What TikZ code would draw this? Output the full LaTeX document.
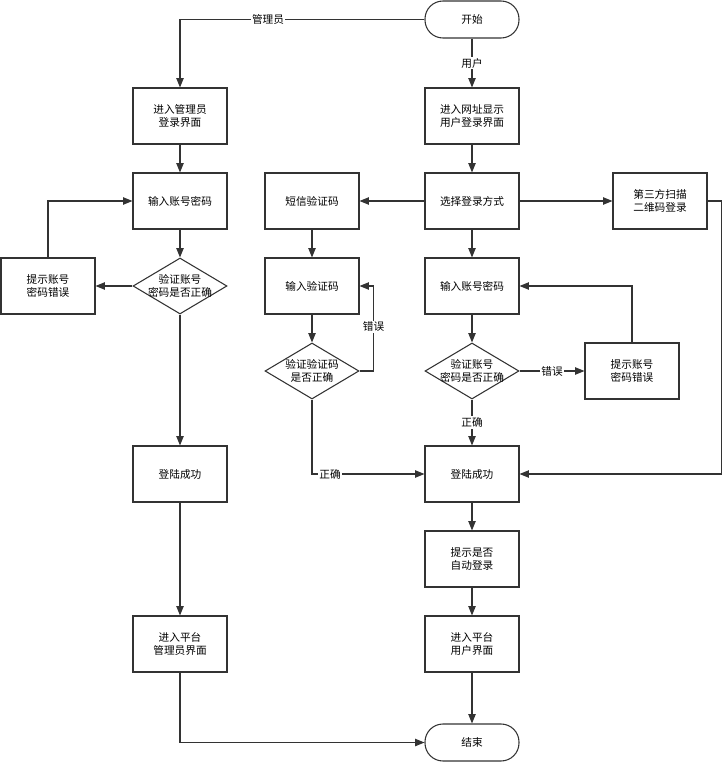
\documentclass[tikz,border=0pt]{standalone}
\usepackage{fontspec}
\setmainfont{Noto Sans CJK SC}
\usetikzlibrary{arrows.meta,shapes.geometric}

\tikzset{
  every node/.style={font=\fontsize{8pt}{10pt}\selectfont},
  proc/.style={draw=black!80, line width=0.8pt, rectangle, minimum width=70.5pt, minimum height=42pt, inner sep=0pt, align=center},
  term/.style={draw=black!80, line width=0.8pt, rectangle, rounded corners=13.5pt, minimum width=70.5pt, minimum height=27.75pt, inner sep=0pt},
  decision/.style={draw=black!80, line width=0.8pt, diamond, minimum width=70.5pt, minimum height=42pt, inner sep=0pt},
  flow/.style={draw=black!80, line width=0.8pt, -{Triangle[length=7pt,width=5.5pt]}},
  lbl/.style={fill=white, inner sep=1pt}
}

\begin{document}
\begin{tikzpicture}[x=0.75pt,y=0.75pt,yscale=-1,xscale=1]
\useasboundingbox (0,0) rectangle (723,763);

%Terminals
\node[term] (start) at (472,19.5) {开始};
\node[term] (stop) at (472,742.5) {结束};

%Admin column
\node[proc] (admLogin) at (180,116) {进入管理员\\登录界面};
\node[proc] (admInput) at (180,201) {输入账号密码};
\node[decision, label={[align=center]center:验证账号\\密码是否正确}] (admCheck) at (180,286) {};
\node[proc] (admErr) at (48,286) {提示账号\\密码错误};
\node[proc] (admOk) at (180,474) {登陆成功};
\node[proc] (admHome) at (180,644) {进入平台\\管理员界面};

%SMS column
\node[proc] (sms) at (312,201) {短信验证码};
\node[proc] (smsInput) at (312,286) {输入验证码};
\node[decision, label={[align=center]center:验证验证码\\是否正确}] (smsCheck) at (312,371) {};

%User column
\node[proc] (usrLogin) at (472,116) {进入网址显示\\用户登录界面};
\node[proc] (usrChoose) at (472,201) {选择登录方式};
\node[proc] (usrInput) at (472,286) {输入账号密码};
\node[decision, label={[align=center]center:验证账号\\密码是否正确}] (usrCheck) at (472,371) {};
\node[proc] (usrErr) at (632,371) {提示账号\\密码错误};
\node[proc] (usrOk) at (472,474) {登陆成功};
\node[proc] (usrAuto) at (472,559) {提示是否\\自动登录};
\node[proc] (usrHome) at (472,644) {进入平台\\用户界面};

%QR login
\node[proc] (qr) at (660,201) {第三方扫描\\二维码登录};

%Connectors: admin
\draw[flow] (start.west) -| (admLogin.north) node[lbl, pos=0.32] {管理员};
\draw[flow] (admLogin) -- (admInput);
\draw[flow] (admInput) -- (admCheck);
\draw[flow] (admCheck) -- (admErr);
\draw[flow] (admErr.north) |- (admInput.west);
\draw[flow] (admCheck) -- (admOk);
\draw[flow] (admOk) -- (admHome);
\draw[flow] (admHome.south) |- (stop.west);

%Connectors: user
\draw[flow] (start) -- (usrLogin) node[lbl, midway] {用户};
\draw[flow] (usrLogin) -- (usrChoose);
\draw[flow] (usrChoose) -- (sms);
\draw[flow] (usrChoose) -- (qr);
\draw[flow] (usrChoose) -- (usrInput);
\draw[flow] (usrInput) -- (usrCheck);
\draw[flow] (usrCheck) -- (usrErr) node[lbl, midway] {错误};
\draw[flow] (usrErr.north) |- (usrInput.east);
\draw[flow] (usrCheck) -- (usrOk) node[lbl, midway] {正确};
\draw[flow] (usrOk) -- (usrAuto);
\draw[flow] (usrAuto) -- (usrHome);
\draw[flow] (usrHome) -- (stop);

%Connectors: sms
\draw[flow] (sms) -- (smsInput);
\draw[flow] (smsInput) -- (smsCheck);
\draw[flow] (smsCheck.east) -- ++(14,0) |- (smsInput.east) node[lbl, pos=0.26] {错误};
\draw[flow] (smsCheck.south) |- (usrOk.west) node[lbl, pos=0.58] {正确};

%Connectors: qr
\draw[flow] (qr.east) -- ++(14,0) |- (usrOk.east);

\end{tikzpicture}
\end{document}
